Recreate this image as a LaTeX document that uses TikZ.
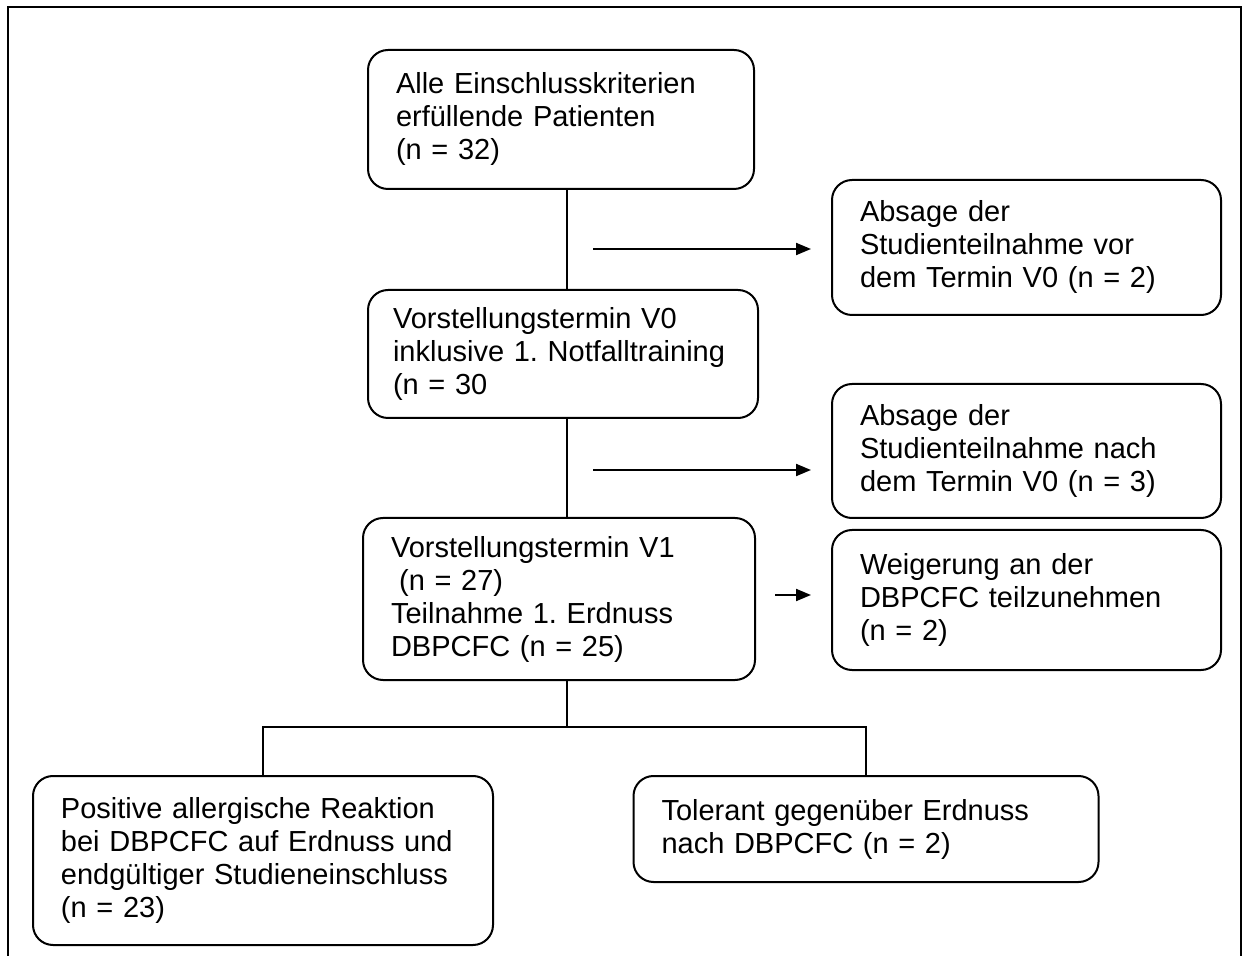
\documentclass[tikz,border=0pt]{standalone}
\usepackage{fontspec}
\setmainfont{Liberation Sans}
\usetikzlibrary{arrows.meta}
\frenchspacing
\hyphenpenalty=10000

\tikzset{
	stepbox/.style={draw, line width=1pt, rounded corners=10pt, align=left,
		inner xsep=14pt, inner ysep=0pt, font=\fontsize{14.5}{16.5}\selectfont},
	flow/.style={line width=1pt},
	dropout/.style={line width=1pt, -{Triangle[length=7.5pt,width=6pt]}}
}

\begin{document}
\begin{tikzpicture}[x=0.5pt,y=-0.5pt]
		\useasboundingbox (0,0) rectangle (1242,956);
		\draw[line width=1pt] (8,956) -- (8,7) -- (1241,7) -- (1241,956);
		\coordinate (trunk) at (567,0);
		%%%%%%%%%%%%%%%%%%%%%%%%%%%%%%%%%
		\node[stepbox, text width=165pt, minimum height=69.5pt] (alle) at (561,119.5)
			{Alle Einschlusskriterien\\erfüllende Patienten\\(n = 32)};
		\node[stepbox, text width=166.5pt, minimum height=67.5pt] (absvor) at (1026.5,247.5)
			{Absage der\\Studienteilnahme vor\\dem Termin V0 (n = 2)};
		\node[stepbox, inner xsep=12.5pt, text width=170pt, minimum height=64pt] (vzero) at (563,354)
			{Vorstellungstermin V0\\inklusive 1. Notfalltraining\\(n = 30};
		\node[stepbox, text width=166.5pt, minimum height=67pt] (absnach) at (1026.5,451)
			{Absage der\\Studienteilnahme nach\\dem Termin V0 (n = 3)};
		\node[stepbox, text width=168pt, minimum height=81pt] (veins) at (559,599)
			{Vorstellungstermin V1\\\hspace*{0.28em}(n = 27)\\Teilnahme 1. Erdnuss\\DBPCFC (n = 25)};
		\node[stepbox, text width=166.5pt, minimum height=70pt] (weig) at (1026.5,600)
			{Weigerung an der\\DBPCFC teilzunehmen\\(n = 2)};
		\node[stepbox, text width=202pt, minimum height=84.5pt] (pos) at (263,860.5)
			{Positive allergische Reaktion\\bei DBPCFC auf Erdnuss und\\endgültiger Studieneinschluss\\(n = 23)};
		\node[stepbox, text width=204.5pt, minimum height=53pt] (tol) at (866,829)
			{Tolerant gegenüber Erdnuss\\nach DBPCFC (n = 2)};
		%%%%%%%%%%%%%%%%%%%%%%%%%%%%%%%%%
		\draw[flow] (alle.south -| trunk) -- (vzero.north -| trunk);
		\draw[flow] (vzero.south -| trunk) -- (veins.north -| trunk);
		\coordinate (split) at (567,727);
		\draw[flow] (veins.south -| trunk) -- (split);
		\draw[flow] (pos.north) |- (split) -| (tol.north);
		%%%%%%%%%%%%%%%%%%%%%%%%%%%%%%%%%
		\coordinate (avor) at (593,249);
		\coordinate (anach) at (593,470);
		\coordinate (aweig) at (775,595);
		\draw[dropout] (avor) -- ([xshift=-10pt]avor -| absvor.west);
		\draw[dropout] (anach) -- ([xshift=-10pt]anach -| absnach.west);
		\draw[dropout] (aweig) -- ([xshift=-10pt]aweig -| weig.west);
	\end{tikzpicture}
\end{document}
